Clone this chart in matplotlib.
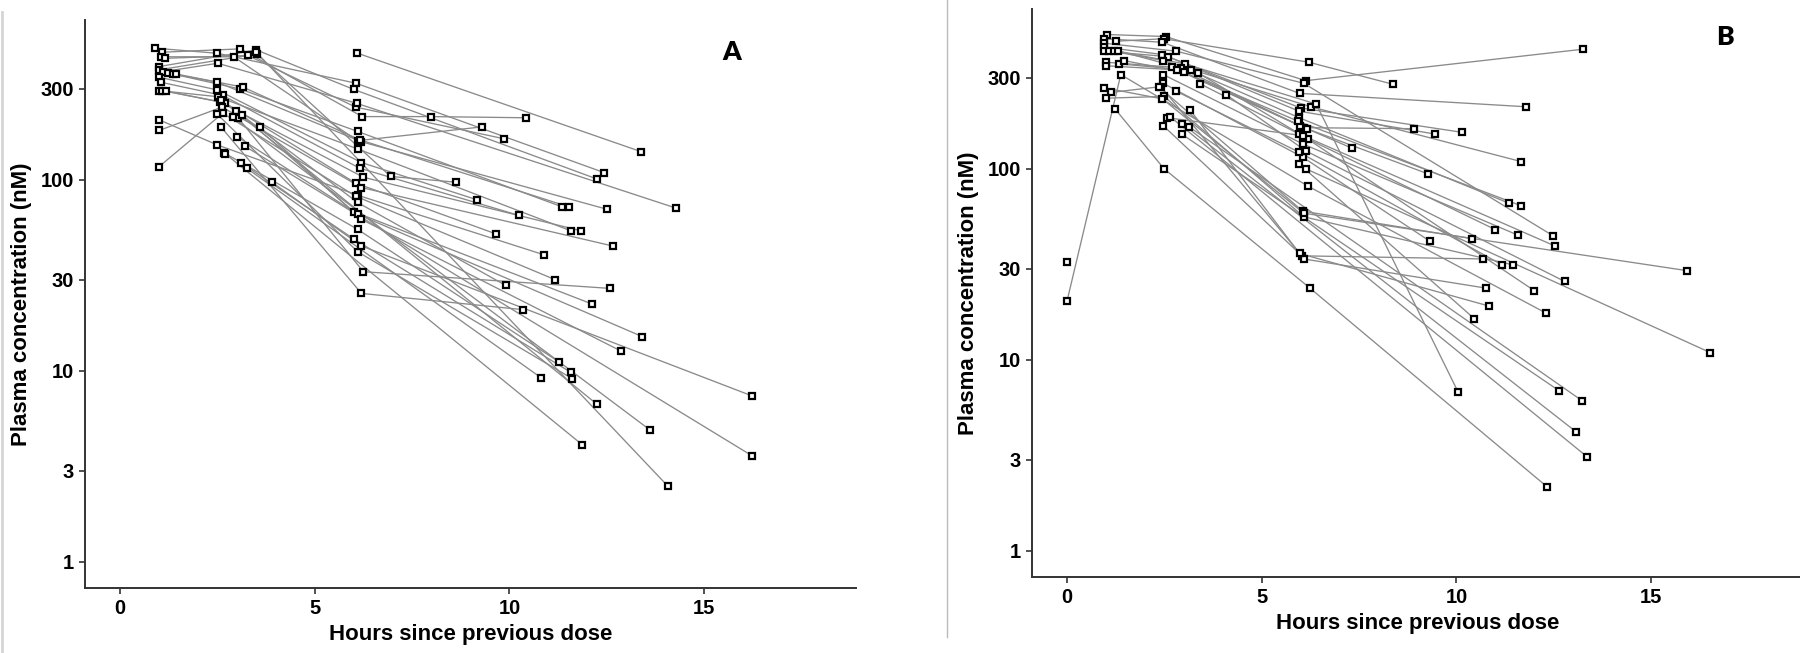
import numpy as np
import matplotlib
matplotlib.use('Agg')
import matplotlib.pyplot as plt
from matplotlib.lines import Line2D

# panel A: one list of sampling times / concentrations per subject
times_a = [
    [0.90, 2.50, 6.06, 12.43], [6.09, 13.39],
    [1.09, 3.09, 6.22, 7.99, 10.43], [1.04, 2.92, 6.10, 9.29],
    [1.15, 3.28, 6.05, 9.85], [1.00, 3.50, 6.00, 12.24],
    [1.00, 3.51, 6.95, 8.64], [1.11, 2.51, 6.08, 14.28],
    [1.24, 2.50, 6.20, 12.51], [1.35, 3.09, 6.10, 11.36],
    [1.43, 3.16, 6.15, 11.53], [1.00, 2.50, 6.20, 9.16],
    [1.04, 2.64, 6.15, 10.25], [0.99, 2.51, 6.10, 11.58],
    [1.09, 2.56, 6.25, 11.84], [1.19, 2.70, 6.05, 9.66],
    [1.00, 2.62, 6.20, 12.65], [1.00, 2.50, 6.10, 10.88],
    [1.00, 2.64, 6.05, 11.17], [2.97, 6.10, 9.90],
    [3.03, 6.25, 12.57], [3.14, 6.00, 12.11],
    [2.59, 6.20, 10.34], [3.01, 6.10, 13.41],
    [3.60, 6.20, 12.86], [2.68, 6.10, 11.28],
    [3.10, 6.00, 11.58], [2.50, 6.10, 11.61],
    [3.25, 10.81], [3.90, 6.20, 16.22],
    [2.60, 12.24], [2.90, 13.61], [2.70, 11.87],
    [3.20, 16.22], [3.50, 14.06],
]
conc_a = [
    [488, 459, 320, 109], [460, 140],
    [465, 484, 214, 214, 211], [440, 440, 160, 189],
    [432, 447, 240, 164], [391, 478, 297, 101],
    [376, 455, 104, 97], [368, 407, 251, 71],
    [361, 324, 158, 70], [358, 298, 179, 72],
    [358, 305, 162, 72], [344, 295, 123, 78.6],
    [324, 276, 115, 65], [293, 272, 145, 54],
    [293, 256, 103, 54], [290, 252, 96, 52],
    [181, 240, 91, 45], [206, 152, 83, 40.5],
    [117, 223, 82, 30], [230, 76, 28],
    [211, 33, 27], [217, 68, 22.4],
    [189, 25.4, 20.9], [168, 66, 15.1],
    [188, 62, 12.7], [138, 55, 11.1],
    [123, 49, 9.8], [220, 42, 9.1],
    [115, 9.2], [97, 45, 7.4],
    [262, 6.7], [212, 4.9], [137, 4.1],
    [150, 3.6], [465, 2.5],
]

# panel B
times_b = [
    [1.03, 2.53, 6.13, 13.24], [1.25, 2.49, 6.21, 8.36],
    [0.96, 2.45, 5.97, 11.79], [0.96, 2.81, 6.08, 12.47],
    [0.96, 2.45, 6.00, 10.15], [0.96, 2.59, 5.96, 9.44],
    [1.08, 2.47, 6.26, 11.66], [1.21, 3.02, 6.40, 10.04],
    [1.30, 2.92, 6.08, 8.92], [0.99, 2.70, 5.98, 7.32],
    [0.99, 2.83, 6.16, 9.27], [1.34, 3.18, 5.96, 11.35],
    [1.47, 3.00, 5.94, 11.66], [3.37, 6.19, 11.00],
    [2.47, 6.05, 11.57], [3.42, 5.96, 12.53],
    [2.47, 6.05, 9.33], [1.14, 2.41, 6.03, 10.68],
    [2.37, 6.05, 10.41], [2.81, 5.96, 11.17],
    [0.99, 2.49, 6.08, 11.45], [0.96, 2.45, 6.08, 15.91],
    [4.09, 6.13, 12.78], [3.16, 6.08, 10.77],
    [2.56, 6.05, 12.00], [2.47, 5.97, 10.84],
    [0.00, 1.38, 6.19, 12.29], [5.96, 10.46],
    [6.13, 16.52], [1.23, 2.49, 6.24, 12.32],
    [2.94, 12.63], [3.13, 13.23], [2.96, 13.07],
    [2.65, 13.36], [0.00],
]
conc_b = [
    [504, 492, 289, 422], [465, 479, 361, 277],
    [479, 459, 248, 211], [454, 412, 280, 44.7],
    [433, 396, 208, 155], [412, 386, 200, 152],
    [415, 368, 211, 109], [415, 354, 218, 6.8],
    [415, 337, 164, 162], [361, 340, 168, 128],
    [346, 329, 162, 94], [354, 327, 185, 66],
    [368, 320, 177, 64], [317, 143, 48],
    [311, 135, 45], [278, 152, 39.4],
    [280, 115, 41.6], [251, 269, 35, 33.7],
    [267, 60, 43], [254, 122, 31.4],
    [234, 239, 56, 31.4], [265, 232, 58.5, 29.3],
    [244, 124, 25.7], [203, 33.7, 23.7],
    [185, 149, 23], [168, 36, 19.1],
    [20.3, 311, 81, 17.6], [106, 16.4],
    [100, 10.9], [206, 100, 23.7, 2.17],
    [152, 6.9], [166, 6.1], [172, 4.2],
    [187, 3.1], [32.4],
]

y_ticks = [1, 3, 10, 30, 100, 300]
x_ticks = [0, 5, 10, 15]

W, H = 1800, 653
plt.rcParams['font.family'] = ['Liberation Sans', 'DejaVu Sans']
plt.rcParams['font.weight'] = 'bold'
plt.rcParams['axes.labelweight'] = 'bold'


def draw_panel(ax, times, conc, tag, tag_xy):
    for t, c in zip(times, conc):
        ax.plot(t, c, color='#8a8a8a', lw=0.95, zorder=1)
    for t, c in zip(times, conc):
        ax.plot(t, c, ls='none', marker='s', ms=4.3, mfc='white',
                mec='black', mew=1.6, zorder=2)
    ax.set_yscale('log')
    ax.set_xlim(-0.9, 18.9)
    ax.set_ylim(10 ** -0.137, 10 ** 2.836)
    ax.set_xticks(x_ticks)
    ax.set_xticklabels([str(v) for v in x_ticks])
    ax.set_yticks(y_ticks)
    ax.set_yticklabels([str(v) for v in y_ticks])
    ax.minorticks_off()
    for s in ['top', 'right']:
        ax.spines[s].set_visible(False)
    for s in ['left', 'bottom']:
        ax.spines[s].set_color('#333333')
        ax.spines[s].set_linewidth(1.4)
    ax.tick_params(length=4, width=1.2, color='#333333', pad=4,
                   labelsize=14.5, labelcolor='black')
    ax.set_xlabel('Hours since previous dose', fontsize=16, labelpad=4)
    ax.set_ylabel('Plasma concentration (nM)', fontsize=16, labelpad=6)
    fig.text(tag_xy[0] / W, 1 - tag_xy[1] / H, tag, family='Lato',
             fontweight='heavy', fontsize=19, ha='center', va='center')


fig = plt.figure(figsize=(W / 100, H / 100), dpi=100)

ax_a = fig.add_axes([85 / W, 1 - 588 / H, 771 / W, 568 / H])
draw_panel(ax_a, times_a, conc_a, 'A', (732, 52))

ax_b = fig.add_axes([1032 / W, 1 - 577 / H, 771 / W, 568 / H])
draw_panel(ax_b, times_b, conc_b, 'B', (1725, 37))

# panel frame lines
fig.add_artist(Line2D([947 / W, 947 / W], [1, 1 - 637 / H],
                      transform=fig.transFigure, color='#bbbbbb', lw=1))
fig.add_artist(Line2D([1.5 / W, 1.5 / W], [1 - 12 / H, 0],
                      transform=fig.transFigure, color='#d5d5d5', lw=2))

fig.savefig('out.png', dpi=100)
